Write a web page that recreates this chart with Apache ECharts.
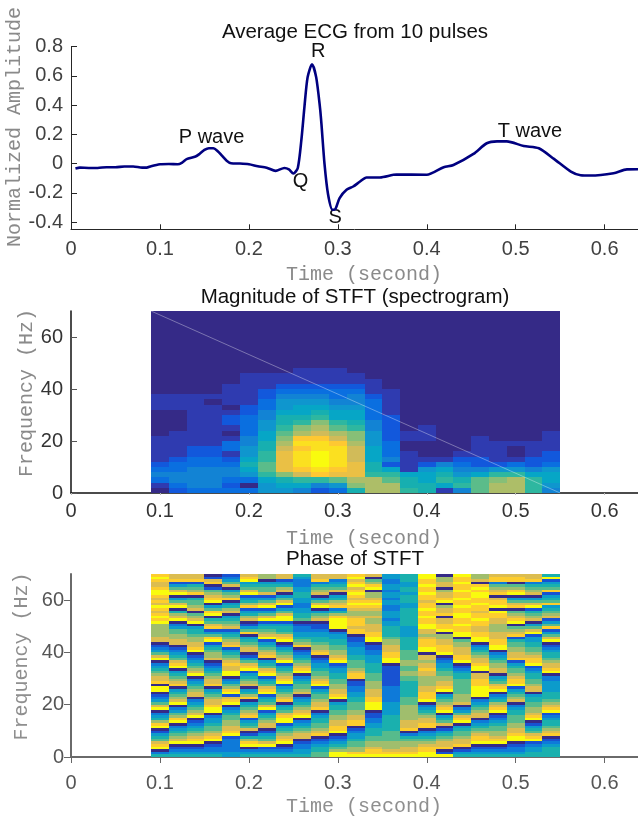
<!DOCTYPE html>
<html><head><meta charset="utf-8">
<script src="https://cdn.jsdelivr.net/npm/echarts@6/dist/echarts.min.js"></script>
<style>html,body{margin:0;padding:0;background:#fff}#c{width:638px;height:818px}</style></head>
<body><div id="c"></div>
<script>
// ECG trace
const ecgTime=[.005,.01,.02,.03,.04,.05,.06,.07,.08,.085,.09,.1,.11,.12,.125,.13,.14,.1445,.15,.155,.16,.165,.17,.175,.18,.19,.2,.21,.22,.23,.24,.245,.25,.255,.259,.2625,.266,.271,.2757,.28,.2816,.285,.289,.294,.2974,.302,.3098,.3173,.325,.3323,.3474,.366,.4,.419,.43,.4525,.4675,.479,.49,.509,.526,.543,.562,.573,.584,.61,.625,.6375];
const ecgAmp=[-.034,-.028,-.03,-.03,-.025,-.025,-.02,-.02,-.028,-.028,-.018,-.005,-.003,-.005,.007,.03,.048,.066,.093,.105,.105,.085,.052,.02,.002,0,-.005,-.018,-.028,-.05,-.03,-.04,-.068,-.03,.16,.39,.59,.68,.59,.38,.27,0,-.21,-.316,-.31,-.236,-.18,-.157,-.123,-.095,-.095,-.075,-.077,-.025,-.01,.066,.139,.152,.152,.12,.105,.032,-.055,-.08,-.082,-.066,-.04,-.039];
const waveNames=['P wave','Q','R','S','T wave'];
const waveTime=[.158,.258,.278,.297,.516];
const waveAmp=[.18,-.12,.764,-.366,.22];
const ampTicks=[-.4,-.2,0,.2,.4,.6,.8];
const timeTicks=[0,.1,.2,.3,.4,.5,.6];
const freqTicks=[0,20,40,60];
// STFT columns start at these times, each .02 s wide
const stftTime=[.09,.11,.13,.15,.17,.19,.21,.23,.25,.27,.29,.31,.33,.35,.37,.39,.41,.43,.45,.47,.49,.51,.53];
// Magnitude level per column, rows top (70 Hz) to bottom (0 Hz), 2 Hz each
const magnitude=[
[0,0,0,0,0,0,0,0,0,0,0,0,0,0,0,0,1,1,1,0,0,0,0,0,1,1,1,1,1,2,3,4,3,1,0],
[0,0,0,0,0,0,0,0,0,0,0,0,0,0,0,0,1,1,1,0,0,0,0,1,1,1,1,1,2,3,3,4,4,3,2],
[0,0,0,0,0,0,0,0,0,0,0,0,0,0,0,0,1,1,1,1,1,1,1,1,1,1,2,2,3,3,4,4,4,4,3],
[0,0,0,0,0,0,0,0,0,0,0,0,0,0,0,0,1,0,1,1,1,1,1,1,1,1,2,2,3,3,4,4,4,4,3],
[0,0,0,0,0,0,0,0,0,0,0,0,0,0,1,1,1,1,0,1,2,2,1,0,1,3,3,1,2,3,4,4,3,2,3],
[0,0,0,0,0,0,0,0,0,0,0,0,1,1,1,1,1,1,2,2,3,3,3,3,4,4,5,5,6,7,6,5,3,0,3],
[0,0,0,0,0,0,0,0,0,0,0,0,1,1,1,2,2,3,3,4,4,5,5,6,6,7,7,8,8,9,9,8,6,5,5],
[0,0,0,0,0,0,0,0,0,0,0,0,1,1,2,3,4,5,5,6,7,7,8,9,10,11,12,13,13,13,13,10,7,6,5],
[0,0,0,0,0,0,0,0,0,0,0,1,1,1,2,3,4,5,6,6,7,8,10,11,14,15,14,15,15,15,14,12,8,6,4],
[0,0,0,0,0,0,0,0,0,0,0,1,1,1,2,3,4,5,6,7,8,10,11,12,14,15,15,16,16,16,15,14,8,4,2],
[0,0,0,0,0,0,0,0,0,0,0,1,1,1,2,3,3,4,5,6,6,8,9,11,12,14,15,15,15,15,14,13,9,5,3],
[0,0,0,0,0,0,0,0,0,0,0,0,1,1,2,3,4,4,5,6,6,7,8,10,10,11,12,12,12,13,13,13,11,10,7],
[0,0,0,0,0,0,0,0,0,0,0,0,0,1,1,1,2,3,3,3,3,4,4,5,5,5,6,6,6,7,7,8,11,11,11],
[0,0,0,0,0,0,0,0,0,0,0,0,0,0,0,1,1,1,1,1,2,2,2,2,2,3,3,3,4,2,6,8,9,11,11],
[0,0,0,0,0,0,0,0,0,0,0,0,0,0,0,0,0,0,0,0,0,0,0,1,1,0,0,1,1,1,1,6,7,7,8],
[0,0,0,0,0,0,0,0,0,0,0,0,0,0,0,0,0,0,0,0,0,0,1,1,1,0,0,0,1,2,5,6,6,7,7],
[0,0,0,0,0,0,0,0,0,0,0,0,0,0,0,0,0,0,0,0,0,0,0,0,0,0,0,0,1,4,6,7,8,6,1],
[0,0,0,0,0,0,0,0,0,0,0,0,0,0,0,0,0,0,0,0,0,0,0,0,0,0,0,1,2,3,4,5,7,8,4],
[0,0,0,0,0,0,0,0,0,0,0,0,0,0,0,0,0,0,0,0,0,0,0,0,1,1,1,1,2,2,4,6,9,9,9],
[0,0,0,0,0,0,0,0,0,0,0,0,0,0,0,0,0,0,0,0,0,0,0,0,0,1,1,1,1,2,5,8,10,11,11],
[0,0,0,0,0,0,0,0,0,0,0,0,0,0,0,0,0,0,0,0,0,0,0,0,0,1,0,0,1,3,5,8,11,11,11],
[0,0,0,0,0,0,0,0,0,0,0,0,0,0,0,0,0,0,0,0,0,0,0,0,0,1,1,1,2,2,4,6,8,8,8],
[0,0,0,0,0,0,0,0,0,0,0,0,0,0,0,0,0,0,0,0,0,0,0,1,1,1,1,2,2,3,5,6,6,5,4]
];
// Phase level (0 = -pi ... 9 = +pi) per column, rows top (70 Hz) to bottom (0 Hz), 1 Hz each
const phase=[
[8,9,8,7,7,8,9,9,8,7,8,7,9,8,7,8,9,8,9,6,6,6,6,6,7,7,0,1,2,3,5,7,9,0,2,3,4,5,6,7,7,8,0,9,9,0,1,2,3,5,7,9,0,2,3,4,6,8,9,0,1,3,4,5,7,8,9,0,2,4],
[7,7,8,1,3,5,7,9,0,3,5,7,9,0,4,6,7,9,0,2,3,5,5,6,6,7,7,0,1,2,3,4,5,7,8,9,0,3,4,5,6,7,8,0,3,4,5,6,7,9,0,2,3,5,6,8,9,0,2,3,4,5,6,7,9,0,1,2,3,4],
[7,7,8,1,4,5,6,8,0,4,5,5,6,7,0,5,6,7,9,0,3,4,4,5,6,6,7,7,8,9,0,1,2,3,4,5,6,7,9,0,2,3,4,5,6,7,7,0,2,3,4,5,6,7,9,0,1,2,3,4,5,6,7,8,9,0,1,2,3,4],
[0,1,7,8,0,1,5,6,7,8,9,0,3,5,8,9,0,4,5,7,8,1,3,5,8,9,1,3,4,5,6,6,7,0,1,2,3,4,5,6,7,7,8,0,3,4,5,6,7,7,8,9,9,0,2,3,3,4,5,5,6,7,8,9,0,1,2,2,3,4],
[1,2,3,5,7,0,3,5,6,8,0,3,4,6,7,0,3,4,5,6,7,1,3,4,5,6,7,8,1,3,4,5,6,7,8,7,7,9,9,0,2,3,5,6,8,9,1,7,8,9,0,2,3,4,5,5,6,6,7,7,8,9,1,2,2,2,2,2,3,3],
[7,8,9,3,4,5,7,9,1,3,4,6,8,1,3,4,6,7,0,1,3,5,8,0,3,4,5,6,7,7,0,1,3,5,7,8,9,1,3,4,5,6,7,0,3,4,6,8,0,3,4,5,6,7,8,1,3,4,5,7,0,1,4,6,8,9,0,2,3,4],
[6,6,0,3,4,5,5,7,1,3,5,7,9,1,3,5,7,9,1,3,4,5,6,7,9,1,3,4,5,6,7,8,0,3,4,5,7,8,9,1,3,4,5,7,8,9,1,3,4,5,7,9,1,3,4,5,6,7,7,0,1,3,4,5,7,9,1,2,3,4],
[7,7,1,3,4,6,7,0,3,5,7,9,1,3,5,7,9,9,1,3,4,4,5,7,8,9,0,1,3,4,5,6,7,9,1,3,4,5,6,7,8,9,1,3,4,5,6,7,8,0,3,4,5,7,8,9,9,1,3,4,5,6,7,8,9,0,1,2,3,4],
[4,3,2,2,2,3,3,4,4,3,3,2,2,3,3,4,4,5,0,1,2,2,3,3,4,5,6,8,0,1,2,3,4,5,6,7,8,9,0,2,3,4,5,5,6,7,0,2,3,4,5,6,7,8,9,0,2,3,4,5,6,7,7,0,1,2,2,3,3,4],
[7,7,8,2,4,5,6,7,0,3,5,7,9,0,3,5,6,7,0,1,1,2,3,3,4,4,5,6,6,7,8,0,1,2,3,3,4,5,5,6,7,8,9,1,3,4,5,5,6,7,7,8,0,2,3,4,4,5,5,6,7,8,0,1,2,3,4,4,5,5],
[7,7,2,3,4,5,7,0,3,4,6,7,8,2,4,6,8,9,9,9,9,0,2,3,3,4,4,5,5,6,6,7,8,9,1,2,3,3,4,4,5,5,6,6,7,7,8,9,0,3,4,4,5,5,6,6,7,7,8,8,9,0,1,2,3,4,5,6,9,9],
[8,9,7,8,9,7,8,9,8,7,8,9,8,7,6,6,7,8,8,8,7,8,8,0,1,1,2,2,3,3,3,4,4,5,5,5,6,7,8,8,0,1,1,2,2,3,3,4,4,5,5,5,6,6,7,7,8,8,0,1,2,3,3,4,5,5,6,6,8,9],
[7,0,5,6,8,9,0,6,6,7,8,9,8,7,6,6,7,6,6,7,7,7,8,8,9,9,0,1,1,2,2,3,3,3,4,4,4,4,5,5,5,6,6,6,7,7,7,8,8,9,9,9,0,1,1,2,2,3,3,4,4,4,5,5,6,6,7,8,8,9],
[3,3,2,2,3,3,2,3,3,2,3,3,2,2,3,3,3,2,3,3,4,4,4,4,5,6,6,7,7,7,8,8,9,9,0,1,1,1,1,1,1,1,1,2,2,2,2,2,2,3,3,3,3,3,4,4,4,4,4,4,5,5,5,5,6,6,6,7,8,9],
[4,4,4,3,3,4,4,3,4,4,4,3,3,4,4,4,4,4,4,4,3,3,3,3,4,4,4,4,4,5,5,5,5,6,6,5,5,6,6,5,5,4,4,4,4,4,4,5,5,5,6,6,6,6,6,6,7,7,7,8,0,2,4,5,6,6,7,7,8,9],
[9,9,8,8,9,8,8,9,8,8,7,8,8,9,8,8,9,8,8,9,9,7,7,6,7,8,8,8,9,9,0,7,7,6,7,7,8,7,7,6,6,6,6,7,7,8,8,8,9,0,2,3,4,5,6,7,7,8,8,0,2,3,4,5,6,7,8,8,9,9],
[0,6,6,7,7,0,6,7,7,8,9,0,6,7,7,8,0,7,7,8,8,9,0,6,6,7,7,8,8,8,9,0,1,2,3,3,4,5,5,6,6,7,7,8,9,0,3,4,5,6,7,8,9,0,3,4,5,7,0,1,3,4,5,6,7,7,8,0,1,9],
[9,8,8,9,8,8,9,8,8,9,8,8,9,8,8,9,9,8,8,9,8,8,9,9,0,5,6,6,7,7,7,8,8,9,0,1,2,3,4,4,5,5,5,5,5,5,6,6,6,7,0,2,3,5,7,8,9,0,3,4,5,5,6,7,7,8,0,1,3,4],
[6,6,7,0,8,9,8,9,9,8,8,9,8,8,7,8,8,9,8,8,7,7,8,8,9,9,0,2,3,4,5,6,7,7,8,9,9,0,7,7,8,8,8,9,9,9,9,0,2,3,4,5,6,7,7,0,2,3,4,5,6,7,8,8,9,0,1,2,3,4],
[7,8,8,2,5,6,7,8,0,7,8,8,9,0,9,8,8,7,7,6,6,6,7,7,7,8,8,9,9,0,2,3,4,5,6,6,7,7,0,3,4,5,7,8,9,0,2,3,4,6,7,8,9,0,1,2,3,4,5,5,6,6,7,8,9,0,1,2,3,4],
[7,8,8,0,5,6,8,9,0,3,5,7,8,0,5,6,7,8,9,0,5,6,7,8,1,4,5,5,6,6,7,7,8,1,3,4,5,5,6,7,8,8,9,1,3,4,5,6,7,0,2,3,4,4,5,5,5,6,6,7,7,8,9,9,0,1,2,2,3,4],
[7,7,8,2,4,5,6,7,0,3,5,7,9,1,4,5,6,7,0,3,5,7,9,1,3,3,4,4,5,5,6,7,8,8,9,1,2,3,4,4,5,5,6,7,7,0,3,4,4,5,5,6,6,7,8,9,0,1,3,4,5,7,8,9,1,2,3,3,4,4],
[4,9,1,3,4,5,8,1,3,4,5,8,3,4,5,6,7,1,3,5,8,1,3,5,7,9,0,1,2,3,4,4,5,6,7,7,8,9,0,2,2,3,3,3,3,4,4,4,5,6,7,8,9,1,2,3,4,4,5,6,7,8,0,1,2,3,4,4,4,4]
];
const parula=['#352a87','#2f3bb0','#1258dc','#0a6fe0','#1283d4','#0f96ce','#06a6c6','#17afb0','#2eb7a0','#5bbc8a','#87bf77','#adbe68','#d1bb59','#eac045','#fec832','#fbe020','#f9fb0e'];

const colWidth=.02, magBin=2, phaseBin=1, topFreq=70;
function cells(matrix,bin){
  const out=[];
  matrix.forEach((col,c)=>col.forEach((v,r)=>{
    const hi=topFreq-r*bin;
    out.push([stftTime[c],stftTime[c]+colWidth,hi-bin,hi,v]);
  }));
  return out;
}
function renderCell(p,api){
  const a=api.coord([api.value(0),api.value(3)]), b=api.coord([api.value(1),api.value(2)]);
  const x=Math.round(a[0]),y=Math.round(a[1]);
  return {type:'rect',shape:{x,y,width:Math.round(b[0])-x,height:Math.round(b[1])-y},style:{fill:api.visual('color')}};
}
const SANS='"Liberation Sans",Arial,sans-serif', MONO='"Liberation Mono",monospace';
function xAxis(idx,o){
  return {gridIndex:idx,type:'value',min:0,max:.6375,
    name:'Time (second)',nameLocation:'middle',nameGap:o.nameGap,nameMoveOverlap:false,
    nameTextStyle:{fontFamily:MONO,fontSize:20,color:o.nameColor,padding:[0,0,0,19]},
    axisLine:{show:true,onZero:false,lineStyle:{color:o.line,width:o.lineW}},
    axisTick:{show:true,inside:o.xTickInside,length:o.xTickLen,lineStyle:{color:o.xTickColor,width:1},customValues:timeTicks},
    axisLabel:{color:o.label,fontFamily:SANS,fontSize:20,margin:o.xMargin,customValues:timeTicks,formatter:v=>String(v)},
    splitLine:{show:false}};
}
function yAxis(idx,o){
  return {gridIndex:idx,type:'value',min:o.min,max:o.max,
    name:o.name,nameLocation:'middle',nameGap:o.nameGap,nameMoveOverlap:false,
    nameTextStyle:{fontFamily:MONO,fontSize:20,color:o.nameColor,padding:o.namePad||0},
    axisLine:{show:true,onZero:false,lineStyle:{color:o.line,width:o.lineW}},
    axisTick:{show:true,inside:o.yTickInside,length:o.yTickLen,lineStyle:{color:o.yTickColor,width:1},customValues:o.ticks},
    axisLabel:{color:o.label,fontFamily:SANS,fontSize:20,margin:o.yMargin,customValues:o.ticks,formatter:v=>String(v)},
    splitLine:{show:false}};
}
const titles=['Average ECG from 10 pulses','Magnitude of STFT (spectrogram)','Phase of STFT'];
const titleTop=[17,282,544];
const topStyle={nameColor:'#8a8a8a',line:'#262626',lineW:1,label:'#404040'};
const midStyle={nameColor:'#8a8a8a',line:'#111',lineW:1.5,label:'#333'};
const botStyle={nameColor:'#8f8f8f',line:'#6a6a6a',lineW:2,label:'#555'};

const option={
  animation:false,
  title:titles.map((t,i)=>({text:t,left:350,top:titleTop[i],textAlign:'center',textStyle:{fontFamily:SANS,fontSize:20.5,fontWeight:'normal',color:'#111'}})),
  grid:[
    {left:71,right:0,top:46.7,height:182.6,outerBoundsMode:'none'},
    {left:71,right:0,top:311,height:182,outerBoundsMode:'none'},
    {left:71,right:0,top:574,height:183,outerBoundsMode:'none'}
  ],
  xAxis:[
    xAxis(0,{...topStyle,nameGap:35,xTickInside:true,xTickLen:5,xTickColor:'#262626',xMargin:10}),
    xAxis(1,{...midStyle,nameGap:36,xTickInside:false,xTickLen:2,xTickColor:'#bbb',xMargin:8}),
    xAxis(2,{...botStyle,nameGap:40,xTickInside:false,xTickLen:6,xTickColor:'#666',xMargin:16})
  ],
  yAxis:[
    yAxis(0,{...topStyle,min:-.45,max:.8,ticks:ampTicks,name:'Normalized Amplitude',nameGap:46,namePad:[0,0,0,22],yTickInside:true,yTickLen:6,yTickColor:'#262626',yMargin:8}),
    yAxis(1,{...midStyle,min:0,max:70,ticks:freqTicks,name:'Frequency (Hz)',nameGap:34,namePad:[0,0,0,18],yTickInside:true,yTickLen:6,yTickColor:'#555',yMargin:8}),
    yAxis(2,{...botStyle,min:0,max:70,ticks:freqTicks,name:'Frequency (Hz)',nameGap:39,namePad:[0,0,0,18],yTickInside:false,yTickLen:7,yTickColor:'#666',yMargin:7})
  ],
  visualMap:[
    {type:'continuous',show:false,min:0,max:16,dimension:4,seriesIndex:2,inRange:{color:parula}},
    {type:'continuous',show:false,min:0,max:9,dimension:4,seriesIndex:4,inRange:{color:parula}}
  ],
  series:[
    {type:'line',xAxisIndex:0,yAxisIndex:0,symbol:'none',smooth:.25,clip:false,lineStyle:{color:'#000080',width:2.6},data:ecgTime.map((t,i)=>[t,ecgAmp[i]])},
    {type:'scatter',xAxisIndex:0,yAxisIndex:0,symbolSize:0,silent:true,clip:false,itemStyle:{opacity:1},
      data:waveNames.map((n,i)=>({name:n,value:[waveTime[i],waveAmp[i]]})),
      label:{show:true,position:'inside',formatter:p=>p.name,fontFamily:SANS,fontSize:20,color:'#111',opacity:1}},
    {type:'custom',xAxisIndex:1,yAxisIndex:1,renderItem:renderCell,silent:true,encode:{x:[0,1],y:[2,3]},data:cells(magnitude,magBin)},
    {type:'line',xAxisIndex:1,yAxisIndex:1,symbol:'none',silent:true,z:5,lineStyle:{color:'rgba(255,255,255,.35)',width:1},data:[[stftTime[0],topFreq],[.55,0]]},
    {type:'custom',xAxisIndex:2,yAxisIndex:2,renderItem:renderCell,silent:true,encode:{x:[0,1],y:[2,3]},data:cells(phase,phaseBin)}
  ]
};
const chart=echarts.init(document.getElementById('c'),null,{renderer:'canvas'});
chart.setOption(option);
</script></body></html>
